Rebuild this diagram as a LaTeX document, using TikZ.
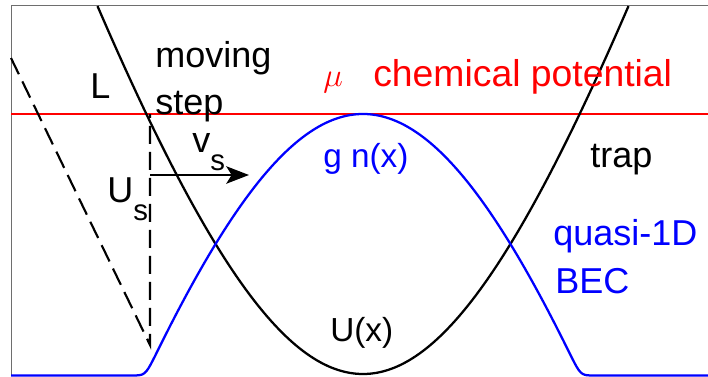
\documentclass[tikz,border=0pt]{standalone}
\usepackage{xcolor}
\usepackage{tikz}
\usepackage{amsmath}
\usepackage{fontspec}
\setmainfont{Liberation Sans}
\usetikzlibrary{arrows.meta, calc}
\definecolor{framegray}{RGB}{110, 110, 110}

\begin{document}
\begin{tikzpicture}[
    x=0.75pt, y=-0.75pt,
    every node/.style={inner sep=0pt, anchor=base west, font=\fontsize{27}{27}\selectfont},
    redlbl/.style={text=red},
    bluelbl/.style={text=blue},
    trapline/.style={line width=1.7pt, black},
    densityline/.style={line width=1.7pt, blue},
    muline/.style={line width=1.6pt, red},
    stepline/.style={line width=1.6pt, black, dash pattern=on 13.5pt off 6pt},
    velarrow/.style={line width=2pt, -{Stealth[length=17pt,width=13pt,inset=4pt]}},
    framegray/.style={line width=0.75pt, draw=framegray}
]
    \useasboundingbox (0,0) rectangle (708,376);

    % frame and chemical potential
    \draw[framegray] (11,376) -- (11,5) -- (708,5);
    \coordinate (muleft) at (11,114);
    \coordinate (muright) at (708,114);
    \draw[muline] (muleft) -- (muright);

    % trap U(x) and density g n(x)
    \draw[trapline] plot[domain=97.5:628.5, samples=151, variable=\x]
        (\x, {374-749*(sqrt(1+((\x-363)/240)^2)-1)});
    \draw[densityline] plot[domain=11:708, samples=351, variable=\x]
        (\x, {375.5-(max(261.5-749*(sqrt(1+((\x-363)/240)^2)-1),0)
              +5*ln(1+exp(-abs(261.5-749*(sqrt(1+((\x-363)/240)^2)-1))/5)))});

    % moving step
    \coordinate (ramptop) at (11,58);
    \coordinate (rampfoot) at (150,345);
    \coordinate (steptop) at (150,114);
    \draw[stepline] (ramptop) -- (rampfoot) -- (steptop);
    \coordinate (vstart) at (150,175);
    \coordinate (vend) at (249,175);
    \draw[velarrow] (vstart) -- (vend);

    % labels
    \node (L) at (90,98) {L};
    \node (moving) at (155,67) {moving};
    \node (step) at (155,114) {step};
    \node (vs) at (192,152) {v\raisebox{-13.5pt}{\fontsize{22}{22}\selectfont s}};
    \node (Us) at (107,202) {U\raisebox{-13.5pt}{\fontsize{22}{22}\selectfont s}};
    \node[redlbl, font=\fontsize{26}{26}\selectfont] (mu) at (323,86) {$\mu$};
    \node[redlbl, font=\fontsize{28}{28}\selectfont] (chempot) at (373,86) {chemical potential};
    \node[bluelbl, font=\fontsize{25}{25}\selectfont] (gn) at (323,167) {g n(x)};
    \node (trap) at (590,167) {trap};
    \node[bluelbl] (quasi) at (553,245) {quasi-1D};
    \node[bluelbl] (bec) at (555,293) {BEC};
    \node[font=\fontsize{25}{25}\selectfont] (Ux) at (330,341) {U(x)};
\end{tikzpicture}
\end{document}
